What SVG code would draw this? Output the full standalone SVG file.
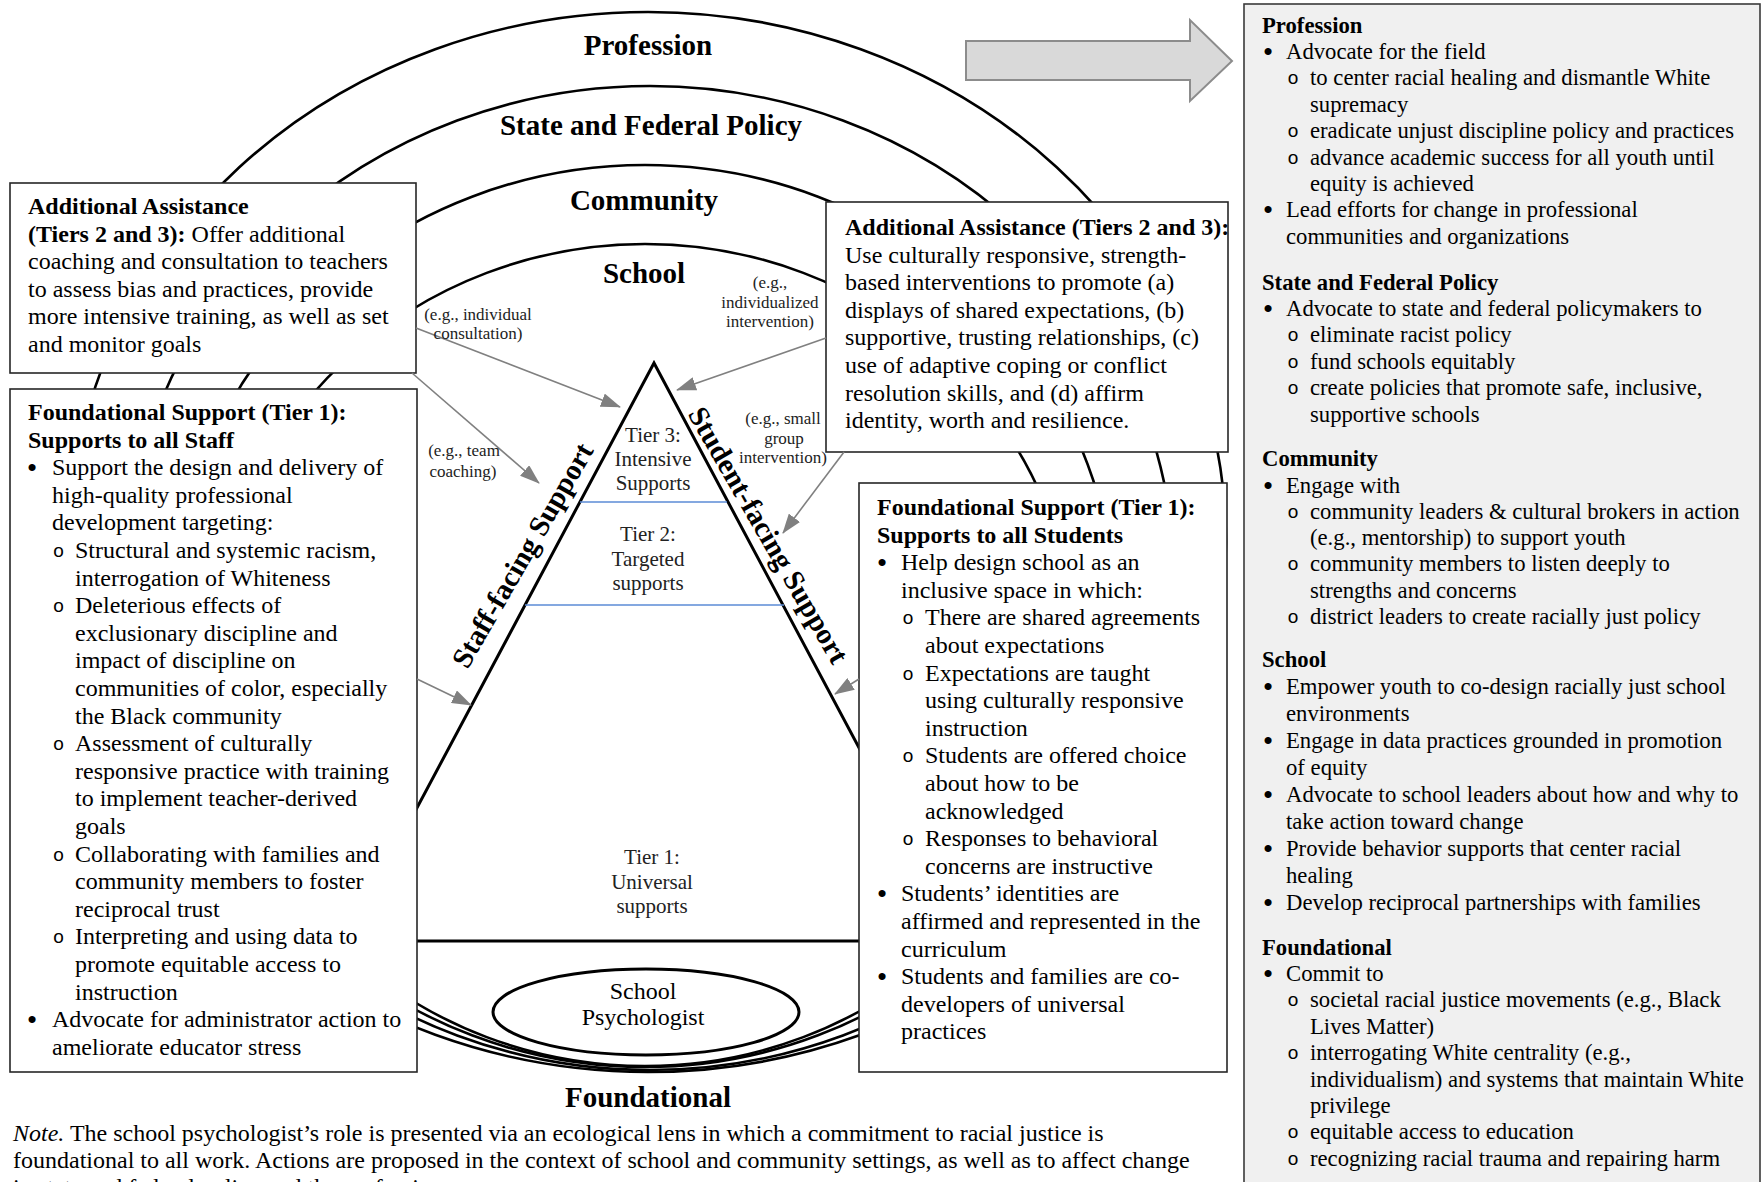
<svg xmlns="http://www.w3.org/2000/svg" width="1763" height="1182" viewBox="0 0 1763 1182">
<defs>
<style>
text{font-family:"Liberation Serif","Times New Roman",serif;fill:#000}
.t{font-size:24px}
.b{font-weight:bold}
.p{font-size:22.7px}
.lab{font-size:29px;font-weight:bold;text-anchor:middle}
.sm{font-size:17px;text-anchor:middle;fill:#222}
.tier{font-size:21px;text-anchor:middle;fill:#222}
.o{font-family:"Liberation Sans",Arial,sans-serif;text-anchor:middle;font-size:19px}
.dot{font-family:"Liberation Sans",Arial,sans-serif;text-anchor:middle;font-size:26px}
.ring{fill:none;stroke:#000;stroke-width:2.6}
.box{fill:#fff;stroke:#262626;stroke-width:1.6}
.conn{stroke:#808080;stroke-width:1.6;fill:none;marker-end:url(#ah)}
</style>
<marker id="ah" markerUnits="userSpaceOnUse" markerWidth="20" markerHeight="14" refX="19" refY="7" orient="auto">
<path d="M0,0 L20,7 L0,14 z" fill="#808080"/>
</marker>
</defs>
<rect width="1763" height="1182" fill="#fff"/>

<g id="rings">
<ellipse class="ring" cx="648" cy="542" rx="578" ry="530"/>
<ellipse class="ring" cx="650" cy="578" rx="524" ry="492"/>
<ellipse class="ring" cx="645" cy="616" rx="470" ry="451"/>
<ellipse class="ring" cx="645" cy="655" rx="430" ry="411"/>
<text class="lab" x="648" y="55">Profession</text>
<text class="lab" x="651" y="135">State and Federal Policy</text>
<text class="lab" x="644" y="210">Community</text>
<text class="lab" x="644" y="283">School</text>
<text class="lab" x="648" y="1107">Foundational</text>
</g>

<g id="node-psychologist">
<ellipse cx="646" cy="1012" rx="153" ry="43" fill="#fff" stroke="#000" stroke-width="3"/>
<text class="t" x="643" y="999" text-anchor="middle">School</text>
<text class="t" x="643" y="1025" text-anchor="middle">Psychologist</text>
</g>

<g id="node-pyramid">
<polygon points="654,363 346,941 962,941" fill="none" stroke="#000" stroke-width="3" stroke-linejoin="miter"/>
<line x1="580" y1="502" x2="727" y2="502" stroke="#5b8bd6" stroke-width="1.6"/>
<line x1="525" y1="605" x2="784" y2="605" stroke="#5b8bd6" stroke-width="1.6"/>
<text class="tier" x="653" y="442">Tier 3:</text>
<text class="tier" x="653" y="466">Intensive</text>
<text class="tier" x="653" y="490">Supports</text>
<text class="tier" x="648" y="541">Tier 2:</text>
<text class="tier" x="648" y="566">Targeted</text>
<text class="tier" x="648" y="590">supports</text>
<text class="tier" x="652" y="864">Tier 1:</text>
<text class="tier" x="652" y="889">Universal</text>
<text class="tier" x="652" y="913">supports</text>
<text x="531" y="560" font-size="29" font-weight="bold" text-anchor="middle" transform="rotate(-60 531 560)">Staff-facing Support</text>
<text x="760" y="540" font-size="29" font-weight="bold" text-anchor="middle" transform="rotate(60 760 540)">Student-facing Support</text>
</g>

<g id="node-left-additional">
<rect class="box" x="10" y="183" width="406" height="190"/>
<text class="t b" x="28" y="214">Additional Assistance</text>
<text class="t" x="28" y="241.6"><tspan font-weight="bold">(Tiers 2 and 3):</tspan> Offer additional</text>
<text class="t" x="28" y="269.2">coaching and consultation to teachers</text>
<text class="t" x="28" y="296.8">to assess bias and practices, provide</text>
<text class="t" x="28" y="324.4">more intensive training, as well as set</text>
<text class="t" x="28" y="352">and monitor goals</text>
</g>

<g id="node-left-foundational">
<rect class="box" x="10" y="389" width="407" height="683"/>
<text class="t b" x="28" y="420">Foundational Support (Tier 1):</text>
<text class="t b" x="28" y="447.6">Supports to all Staff</text>
<text class="dot" x="32" y="476.2">•</text><text class="t" x="52" y="475.2">Support the design and delivery of</text>
<text class="t" x="52" y="502.8">high-quality professional</text>
<text class="t" x="52" y="530.4">development targeting:</text>
<text class="o" x="58.5" y="557">o</text><text class="t" x="75" y="558">Structural and systemic racism,</text>
<text class="t" x="75" y="585.6">interrogation of Whiteness</text>
<text class="o" x="58.5" y="612.2">o</text><text class="t" x="75" y="613.2">Deleterious effects of</text>
<text class="t" x="75" y="640.8">exclusionary discipline and</text>
<text class="t" x="75" y="668.4">impact of discipline on</text>
<text class="t" x="75" y="696">communities of color, especially</text>
<text class="t" x="75" y="723.6">the Black community</text>
<text class="o" x="58.5" y="750.2">o</text><text class="t" x="75" y="751.2">Assessment of culturally</text>
<text class="t" x="75" y="778.8">responsive practice with training</text>
<text class="t" x="75" y="806.4">to implement teacher-derived</text>
<text class="t" x="75" y="834">goals</text>
<text class="o" x="58.5" y="860.6">o</text><text class="t" x="75" y="861.6">Collaborating with families and</text>
<text class="t" x="75" y="889.2">community members to foster</text>
<text class="t" x="75" y="916.8">reciprocal trust</text>
<text class="o" x="58.5" y="943.4">o</text><text class="t" x="75" y="944.4">Interpreting and using data to</text>
<text class="t" x="75" y="972">promote equitable access to</text>
<text class="t" x="75" y="999.6">instruction</text>
<text class="dot" x="32" y="1028.2">•</text><text class="t" x="52" y="1027.2">Advocate for administrator action to</text>
<text class="t" x="52" y="1054.8">ameliorate educator stress</text>
</g>

<g id="node-right-additional">
<rect class="box" x="826" y="202" width="402" height="250"/>
<text class="t b" x="845" y="235">Additional Assistance (Tiers 2 and 3):</text>
<text class="t" x="845" y="262.6">Use culturally responsive, strength-</text>
<text class="t" x="845" y="290.2">based interventions to promote (a)</text>
<text class="t" x="845" y="317.8">displays of shared expectations, (b)</text>
<text class="t" x="845" y="345.4">supportive, trusting relationships, (c)</text>
<text class="t" x="845" y="373">use of adaptive coping or conflict</text>
<text class="t" x="845" y="400.6">resolution skills, and (d) affirm</text>
<text class="t" x="845" y="428.2">identity, worth and resilience.</text>
</g>

<g id="node-right-foundational">
<rect class="box" x="859" y="483" width="368" height="589"/>
<text class="t b" x="877" y="515">Foundational Support (Tier 1):</text>
<text class="t b" x="877" y="542.6">Supports to all Students</text>
<text class="dot" x="882" y="571.2">•</text><text class="t" x="901" y="570.2">Help design school as an</text>
<text class="t" x="901" y="597.8">inclusive space in which:</text>
<text class="o" x="908" y="624.4">o</text><text class="t" x="925" y="625.4">There are shared agreements</text>
<text class="t" x="925" y="653">about expectations</text>
<text class="o" x="908" y="679.6">o</text><text class="t" x="925" y="680.6">Expectations are taught</text>
<text class="t" x="925" y="708.2">using culturally responsive</text>
<text class="t" x="925" y="735.8">instruction</text>
<text class="o" x="908" y="762.4">o</text><text class="t" x="925" y="763.4">Students are offered choice</text>
<text class="t" x="925" y="791">about how to be</text>
<text class="t" x="925" y="818.6">acknowledged</text>
<text class="o" x="908" y="845.2">o</text><text class="t" x="925" y="846.2">Responses to behavioral</text>
<text class="t" x="925" y="873.8">concerns are instructive</text>
<text class="dot" x="882" y="902.4">•</text><text class="t" x="901" y="901.4">Students’ identities are</text>
<text class="t" x="901" y="929">affirmed and represented in the</text>
<text class="t" x="901" y="956.6">curriculum</text>
<text class="dot" x="882" y="985.2">•</text><text class="t" x="901" y="984.2">Students and families are co-</text>
<text class="t" x="901" y="1011.8">developers of universal</text>
<text class="t" x="901" y="1039.4">practices</text>
</g>

<g id="connectors">
<line class="conn" x1="416" y1="328" x2="620" y2="407"/>
<line class="conn" x1="412" y1="373" x2="539" y2="483"/>
<line class="conn" x1="417" y1="679" x2="471" y2="705"/>
<line class="conn" x1="826" y1="338" x2="677" y2="390"/>
<line class="conn" x1="844" y1="452" x2="783" y2="533"/>
<line class="conn" x1="859" y1="679" x2="835" y2="694"/>
<text class="sm" x="478" y="320">(e.g., individual</text>
<text class="sm" x="478" y="339">consultation)</text>
<text class="sm" x="770" y="288">(e.g.,</text>
<text class="sm" x="770" y="307.5">individualized</text>
<text class="sm" x="770" y="327">intervention)</text>
<text class="sm" x="464" y="456">(e.g., team</text>
<text class="sm" x="463" y="477">coaching)</text>
<text class="sm" x="783" y="424">(e.g., small</text>
<text class="sm" x="784" y="444">group</text>
<text class="sm" x="783" y="463">intervention)</text>
</g>

<g id="node-arrow">
<polygon points="966,41 1190,41 1190,20 1232,61 1190,101 1190,80 966,80" fill="#d9d9d9" stroke="#8c8c8c" stroke-width="2"/>
</g>

<g id="node-panel">
<rect x="1244" y="4" width="516" height="1190" fill="#f0f0f0" stroke="#3a3a3a" stroke-width="1.6"/>
<g class="p">
<text class="p b" x="1262" y="32.5">Profession</text>
<text class="dot" x="1268" y="59.9">•</text><text class="p" x="1286" y="58.9">Advocate for the field</text>
<text class="o" x="1293" y="84.3">o</text><text class="p" x="1310" y="85.3">to center racial healing and dismantle White</text>
<text class="p" x="1310" y="111.7">supremacy</text>
<text class="o" x="1293" y="137.1">o</text><text class="p" x="1310" y="138.1">eradicate unjust discipline policy and practices</text>
<text class="o" x="1293" y="163.5">o</text><text class="p" x="1310" y="164.5">advance academic success for all youth until</text>
<text class="p" x="1310" y="190.9">equity is achieved</text>
<text class="dot" x="1268" y="218.3">•</text><text class="p" x="1286" y="217.3">Lead efforts for change in professional</text>
<text class="p" x="1286" y="243.7">communities and organizations</text>

<text class="p b" x="1262" y="289.5">State and Federal Policy</text>
<text class="dot" x="1268" y="316.9">•</text><text class="p" x="1286" y="315.9">Advocate to state and federal policymakers to</text>
<text class="o" x="1293" y="341.3">o</text><text class="p" x="1310" y="342.3">eliminate racist policy</text>
<text class="o" x="1293" y="367.7">o</text><text class="p" x="1310" y="368.7">fund schools equitably</text>
<text class="o" x="1293" y="394.1">o</text><text class="p" x="1310" y="395.1">create policies that promote safe, inclusive,</text>
<text class="p" x="1310" y="421.5">supportive schools</text>

<text class="p b" x="1262" y="465.5">Community</text>
<text class="dot" x="1268" y="493.5">•</text><text class="p" x="1286" y="492.5">Engage with</text>
<text class="o" x="1293" y="518">o</text><text class="p" x="1310" y="519">community leaders &amp; cultural brokers in action</text>
<text class="p" x="1310" y="545">(e.g., mentorship) to support youth</text>
<text class="o" x="1293" y="570.3">o</text><text class="p" x="1310" y="571.3">community members to listen deeply to</text>
<text class="p" x="1310" y="597.6">strengths and concerns</text>
<text class="o" x="1293" y="622.9">o</text><text class="p" x="1310" y="623.9">district leaders to create racially just policy</text>

<text class="p b" x="1262" y="666.5">School</text>
<text class="dot" x="1268" y="694.6">•</text><text class="p" x="1286" y="693.6">Empower youth to co-design racially just school</text>
<text class="p" x="1286" y="720.7">environments</text>
<text class="dot" x="1268" y="748.8">•</text><text class="p" x="1286" y="747.8">Engage in data practices grounded in promotion</text>
<text class="p" x="1286" y="774.9">of equity</text>
<text class="dot" x="1268" y="803">•</text><text class="p" x="1286" y="802">Advocate to school leaders about how and why to</text>
<text class="p" x="1286" y="829.1">take action toward change</text>
<text class="dot" x="1268" y="857.2">•</text><text class="p" x="1286" y="856.2">Provide behavior supports that center racial</text>
<text class="p" x="1286" y="883.3">healing</text>
<text class="dot" x="1268" y="911.4">•</text><text class="p" x="1286" y="910.4">Develop reciprocal partnerships with families</text>

<text class="p b" x="1262" y="954.5">Foundational</text>
<text class="dot" x="1268" y="981.9">•</text><text class="p" x="1286" y="980.9">Commit to</text>
<text class="o" x="1293" y="1006.3">o</text><text class="p" x="1310" y="1007.3">societal racial justice movements (e.g., Black</text>
<text class="p" x="1310" y="1033.7">Lives Matter)</text>
<text class="o" x="1293" y="1059.1">o</text><text class="p" x="1310" y="1060.1">interrogating White centrality (e.g.,</text>
<text class="p" x="1310" y="1086.5">individualism) and systems that maintain White</text>
<text class="p" x="1310" y="1112.9">privilege</text>
<text class="o" x="1293" y="1138.3">o</text><text class="p" x="1310" y="1139.3">equitable access to education</text>
<text class="o" x="1293" y="1164.7">o</text><text class="p" x="1310" y="1165.7">recognizing racial trauma and repairing harm</text>
</g>
</g>

<g id="note">
<text class="t" x="13" y="1141"><tspan font-style="italic">Note.</tspan> The school psychologist’s role is presented via an ecological lens in which a commitment to racial justice is</text>
<text class="t" x="13" y="1168">foundational to all work. Actions are proposed in the context of school and community settings, as well as to affect change</text>
<text class="t" x="13" y="1195">in state and federal policy and the profession.</text>
</g>
</svg>
